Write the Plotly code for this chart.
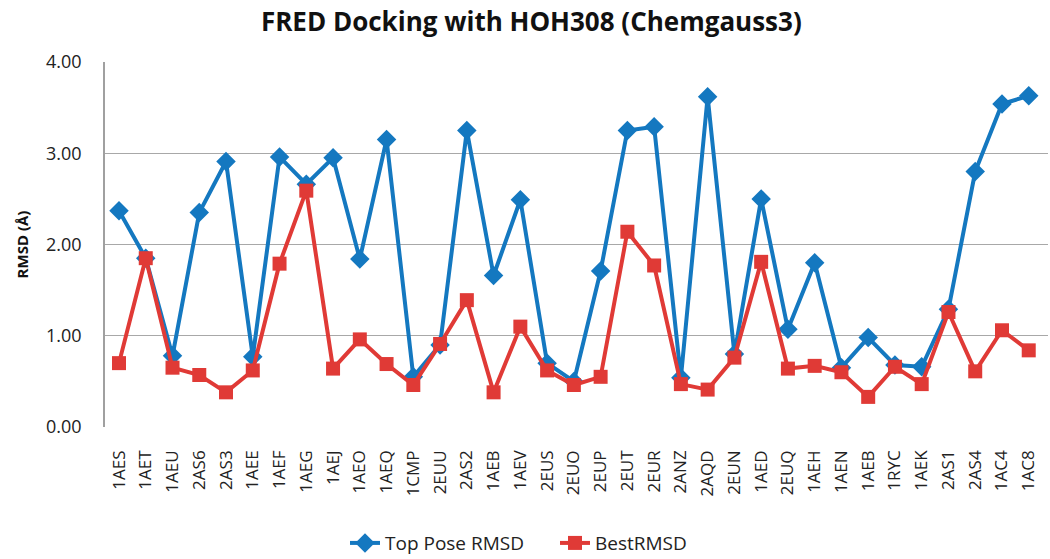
import plotly.graph_objects as go

categories = ["1AES", "1AET", "1AEU", "2AS6", "2AS3", "1AEE", "1AEF", "1AEG", "1AEJ", "1AEO",
              "1AEQ", "1CMP", "2EUU", "2AS2", "1AEB", "1AEV", "2EUS", "2EUO", "2EUP", "2EUT",
              "2EUR", "2ANZ", "2AQD", "2EUN", "1AED", "2EUQ", "1AEH", "1AEN", "1AEB", "1RYC",
              "1AEK", "2AS1", "2AS4", "1AC4", "1AC8"]
top_pose = [2.37, 1.85, 0.78, 2.35, 2.91, 0.77, 2.96, 2.66, 2.95, 1.84,
            3.15, 0.55, 0.90, 3.25, 1.66, 2.49, 0.70, 0.50, 1.71, 3.25,
            3.29, 0.54, 3.62, 0.80, 2.50, 1.07, 1.80, 0.65, 0.98, 0.68,
            0.66, 1.29, 2.80, 3.54, 3.63]
best = [0.70, 1.85, 0.65, 0.57, 0.38, 0.62, 1.79, 2.59, 0.64, 0.96,
        0.69, 0.46, 0.91, 1.39, 0.38, 1.10, 0.62, 0.46, 0.55, 2.14,
        1.77, 0.47, 0.41, 0.76, 1.81, 0.64, 0.67, 0.60, 0.33, 0.66,
        0.47, 1.26, 0.61, 1.06, 0.84]

x = list(range(len(categories)))
FONT = "Open Sans, Lato, sans-serif"

fig = go.Figure()
fig.add_trace(go.Scatter(x=x, y=top_pose, name="Top Pose RMSD", mode="lines+markers",
                         line=dict(color="#1478c0", width=4),
                         marker=dict(symbol="diamond", size=15, color="#1478c0")))
fig.add_trace(go.Scatter(x=x, y=best, name="BestRMSD", mode="lines+markers",
                         line=dict(color="#e03a36", width=4),
                         marker=dict(symbol="square", size=14, color="#e03a36")))

fig.update_layout(
    width=1050, height=559,
    paper_bgcolor="white", plot_bgcolor="white",
    margin=dict(l=105, r=2, t=62, b=132, autoexpand=False),
    font=dict(family=FONT, color="#222222"),
    title=dict(text="<b>FRED Docking with HOH308 (Chemgauss3)</b>",
               x=0.506, xanchor="center", y=0.96, yanchor="middle",
               font=dict(size=26, family=FONT, color="#111111")),
    showlegend=True,
    legend=dict(orientation="h", x=0.2545, xanchor="left", y=-0.318, yanchor="middle",
                entrywidth=165, entrywidthmode="pixels",
                font=dict(size=19, family=FONT), traceorder="normal"),
)
fig.update_xaxes(
    tickmode="array", tickvals=x, ticktext=categories, tickangle=-90,
    range=[-0.523, 34.72], automargin=False,
    showgrid=False, zeroline=False, showline=False,
    ticks="", ticklabelstandoff=19, tickfont=dict(size=17, family=FONT, color="#222222"),
)
fig.update_yaxes(
    range=[0, 4], tickvals=[0, 1, 2, 3, 4], tickformat=".2f", automargin=False,
    showgrid=True, gridcolor="#a8a8a8", gridwidth=1.2,
    zeroline=False, showline=True, linecolor="#a0a0a0", linewidth=1.5,
    ticks="", ticklabelstandoff=18,
    tickfont=dict(size=18, family=FONT, color="#222222"),
    title=dict(text="<b>RMSD (Å)</b>", font=dict(size=15, family=FONT, color="#111111"),
               standoff=14),
)
fig.write_html("out.html", config={"displayModeBar": False},
               post_script="document.body.style.margin='0';document.body.style.overflow='hidden';")
